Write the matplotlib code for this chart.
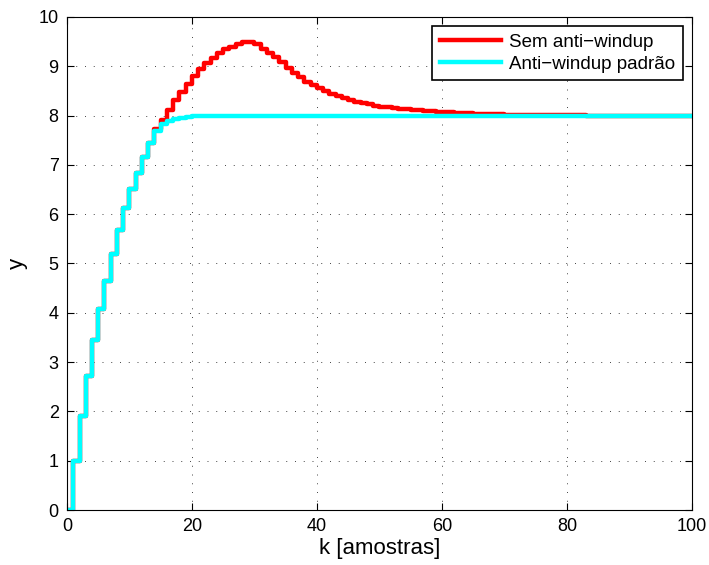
import numpy as np
import matplotlib
matplotlib.use("Agg")
import matplotlib.pyplot as plt

plt.rcParams['font.family'] = ['Liberation Sans', 'DejaVu Sans']

# amostras k = 0..100
k = np.arange(0, 101)

# resposta sem anti-windup (k = 0..100)
y_sem = [
    0.00, 1.00, 1.91, 2.72, 3.45, 4.07, 4.65, 5.19, 5.68, 6.12,
    6.51, 6.84, 7.15, 7.44, 7.73, 7.91, 8.12, 8.31, 8.48, 8.65,
    8.80, 8.94, 9.06, 9.16, 9.26, 9.34, 9.40, 9.45, 9.49, 9.50,
    9.45, 9.36, 9.27, 9.18, 9.09, 8.97, 8.87, 8.78, 8.69, 8.62,
    8.55, 8.49, 8.44, 8.40, 8.36, 8.32, 8.28, 8.25, 8.23, 8.20,
    8.18, 8.165, 8.15, 8.14, 8.13, 8.12, 8.11, 8.10, 8.09, 8.08,
    8.072, 8.065, 8.058, 8.052, 8.046, 8.041, 8.036, 8.032, 8.028, 8.024,
    8.021, 8.018, 8.015, 8.013, 8.011, 8.009, 8.007, 8.006, 8.005, 8.004,
    8.003, 8.002, 8.002, 8.001, 8.001, 8.000, 8.000, 8.000, 8.000, 8.000,
    8.000, 8.000, 8.000, 8.000, 8.000, 8.000, 8.000, 8.000, 8.000, 8.000,
    8.000,
]

# resposta com anti-windup padrao (k = 0..100)
y_aw = [
    0.00, 1.00, 1.91, 2.72, 3.45, 4.07, 4.65, 5.19, 5.68, 6.12,
    6.51, 6.84, 7.15, 7.44, 7.69, 7.82, 7.89, 7.93, 7.96, 7.975,
    7.985, 7.99, 7.995, 7.997, 7.998, 7.999,
] + [8.00] * 75

fig = plt.figure(figsize=(7.09, 5.65), dpi=100)
ax = fig.add_axes([0.0945, 0.0973, 0.8815, 0.8727])

ax.step(k, y_sem, where='post', color='#ff0000', linewidth=3.2, label='Sem anti\u2212windup')
ax.step(k, y_aw, where='post', color='#00ffff', linewidth=3.2, label='Anti\u2212windup padrão')

ax.set_xlim(0, 100)
ax.set_ylim(0, 10)
ax.set_xticks(range(0, 101, 20))
ax.set_yticks(range(0, 11))
ax.grid(True, linestyle=(0, (1, 8)), color='#444444', linewidth=0.7)
ax.tick_params(direction='in', top=True, right=True, labelsize=13, length=5, pad=6)
for s in ax.spines.values():
    s.set_linewidth(0.8)

ax.set_xlabel('k [amostras]', fontsize=16, labelpad=2)
ax.set_ylabel('y', fontsize=16, labelpad=8)

leg = ax.legend(loc='upper right', fontsize=13.5, fancybox=False, framealpha=1,
                edgecolor='black', handlelength=3.3, borderaxespad=0.5,
                labelspacing=0.25, handletextpad=0.4, borderpad=0.4)
leg.get_frame().set_linewidth(1.2)

fig.savefig('out.png', dpi=100)
